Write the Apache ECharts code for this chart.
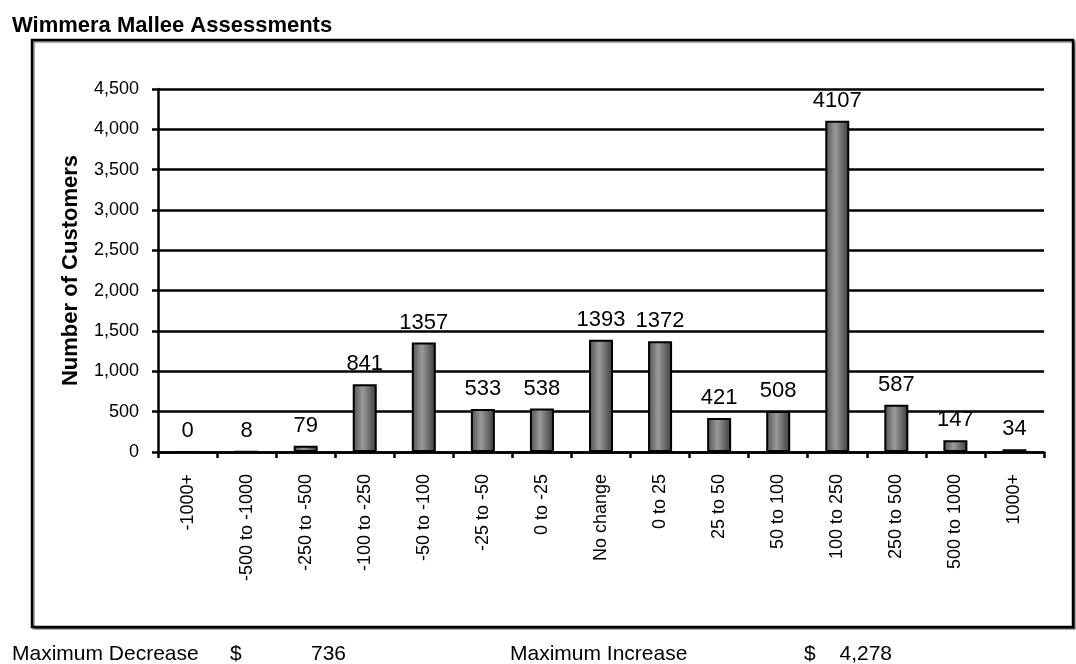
<!DOCTYPE html>
<html>
<head>
<meta charset="utf-8">
<script src="https://cdn.jsdelivr.net/npm/echarts@6/dist/echarts.min.js"></script>
<style>
html,body{margin:0;padding:0;background:#fff;}
#chart{width:1076px;height:664px;}
</style>
</head>
<body>
<div id="chart"></div>
<script>
var chartTitle = 'Wimmera Mallee Assessments';
var yAxisName = 'Number of Customers';
var categories = ['-1000+', '-500 to -1000', '-250 to -500', '-100 to -250', '-50 to -100', '-25 to -50', '0 to -25', 'No change', '0 to 25', '25 to 50', '50 to 100', '100 to 250', '250 to 500', '500 to 1000', '1000+'];
var customers = [0, 8, 79, 841, 1357, 533, 538, 1393, 1372, 421, 508, 4107, 587, 147, 34];
var yMin = 0, yMax = 4500, yStep = 500;
var maxDecreaseLabel = 'Maximum Decrease';
var maxDecreaseValue = '736';
var maxIncreaseLabel = 'Maximum Increase';
var maxIncreaseValue = '4,278';

var FONT = 'Arial, "Liberation Sans", sans-serif';
var chart = echarts.init(document.getElementById('chart'));

var option = {
  backgroundColor: '#fff',
  animation: false,
  textStyle: { fontFamily: FONT, color: '#000' },
  grid: { left: 158, right: 32, top: 89, bottom: 212, containLabel: false },
  graphic: [
    { type: 'rect', z: -10, shape: { x: 32, y: 40, width: 1041, height: 587 },
      style: { fill: '#fff', stroke: '#000', lineWidth: 2.5, shadowColor: 'rgba(0,0,0,0.45)', shadowOffsetX: 1.5, shadowOffsetY: 1.5, shadowBlur: 1 } },
    { type: 'text', left: 12, style: { text: chartTitle, x: 12, y: 26, font: 'bold 22px ' + FONT, fill: '#000', verticalAlign: 'middle' }, position: [0, 0] },
    { type: 'text', style: { text: maxDecreaseLabel, x: 12, y: 654, font: '21px ' + FONT, fill: '#000', verticalAlign: 'middle' } },
    { type: 'text', style: { text: '$', x: 230, y: 654, font: '21px ' + FONT, fill: '#000', verticalAlign: 'middle' } },
    { type: 'text', style: { text: maxDecreaseValue, x: 346, y: 654, font: '21px ' + FONT, fill: '#000', verticalAlign: 'middle', align: 'right' } },
    { type: 'text', style: { text: maxIncreaseLabel, x: 510, y: 654, font: '21px ' + FONT, fill: '#000', verticalAlign: 'middle' } },
    { type: 'text', style: { text: '$', x: 804, y: 654, font: '21px ' + FONT, fill: '#000', verticalAlign: 'middle' } },
    { type: 'text', style: { text: maxIncreaseValue, x: 892, y: 654, font: '21px ' + FONT, fill: '#000', verticalAlign: 'middle', align: 'right' } }
  ],
  xAxis: {
    type: 'category',
    data: categories,
    boundaryGap: true,
    axisLine: { show: true, lineStyle: { color: '#000', width: 2.5 } },
    axisTick: { show: true, length: 6, alignWithLabel: false, lineStyle: { color: '#000', width: 2.5 } },
    axisLabel: { rotate: 90, interval: 0, margin: 22, fontSize: 18, color: '#000', fontFamily: FONT },
    splitLine: { show: false }
  },
  yAxis: {
    type: 'value',
    min: yMin, max: yMax, interval: yStep,
    name: yAxisName,
    nameLocation: 'middle',
    nameRotate: 90,
    nameGap: 76,
    nameTextStyle: { fontSize: 22, fontWeight: 'bold', color: '#000', fontFamily: FONT },
    axisLine: { show: true, lineStyle: { color: '#000', width: 2.5 } },
    axisTick: { show: true, length: 6, lineStyle: { color: '#000', width: 2.5 } },
    axisLabel: { margin: 19, fontSize: 18, color: '#000', fontFamily: FONT,
      formatter: function (v) { return v.toLocaleString('en-US'); } },
    splitLine: { show: true, lineStyle: { color: '#000', width: 2.5 } }
  },
  series: [{
    type: 'bar',
    data: customers,
    barWidth: 24,
    itemStyle: {
      color: new echarts.graphic.LinearGradient(0, 0, 1, 0, [
        { offset: 0, color: '#4e4e4e' },
        { offset: 0.42, color: '#9a9a9a' },
        { offset: 1, color: '#3a3a3a' }
      ]),
      borderColor: '#000',
      borderWidth: 2
    },
    label: { show: true, position: 'top', distance: 9, fontSize: 22, color: '#000', fontFamily: FONT }
  }]
};
chart.setOption(option);
</script>
</body>
</html>
